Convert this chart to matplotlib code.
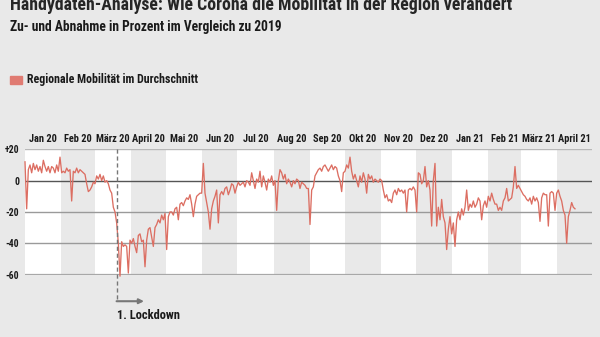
import numpy as np
import pandas as pd
import matplotlib
matplotlib.use('Agg')
from matplotlib import pyplot as plt
from matplotlib import font_manager

title = 'Handydaten-Analyse: Wie Corona die Mobilität in der Region verändert'
subtitle = 'Zu- und Abnahme in Prozent im Vergleich zu 2019'
series_name = 'Regionale Mobilität im Durchschnitt'

start_date = '2020-01-01'
sample_step_days = 10 / 7
lockdown_date = '2020-03-20'
lockdown_label = '1. Lockdown'

month_labels = ['Jan 20', 'Feb 20', 'März 20', 'April 20', 'Mai 20', 'Jun 20',
                'Jul 20', 'Aug 20', 'Sep 20', 'Okt 20', 'Nov 20', 'Dez 20',
                'Jan 21', 'Feb 21', 'März 21', 'April 21']

y_ticks = [20, 0, -20, -40, -60]
y_tick_labels = ['+20', '0', '-20', '-40', '-60']

# change vs 2019 in percent, one value every 10/7 days from 1 Jan 2020
mobility = [
    12, -18, 7, 10, 5, 11, 7, 10, 6, 9,
    5, 13, 9, 6, 9, 5, 9, 8, 5, 10,
    6, 15, 5, 6, 5, 8, 6, 7, -13, 6,
    5, 8, 5, 7, 6, 5, 4, -2, -7, -6,
    -4, -1, -2, 3, 1, 4, 0, 3, -1, 0,
    -2, -6, -8, -17, -20, -27, -40, -61, -39, -42,
    -41, -42, -59, -38, -40, -37, -42, -46, -35, -34,
    -39, -38, -55, -38, -31, -30, -36, -42, -30, -28,
    -25, -27, -22, -25, -21, -44, -23, -20, -20, -22,
    -18, -17, -25, -15, -14, -16, -13, -11, -12, -9,
    -15, -23, -15, -10, -9, -8, -8, 11, -8, -14,
    -20, -31, -18, -13, -10, -6, -27, -9, -7, -9,
    -5, -4, -9, -6, -2, -3, -8, -4, -1, -3,
    -2, -1, -4, 0, -1, -3, 5, 0, -5, 1,
    -1, 6, -4, 3, -1, -6, 1, -1, 3, -3,
    0, -19, 0, 7, 5, 1, 4, -2, 1, -1,
    -4, 0, -2, 1, 0, -5, -1, -2, -3, -5,
    -5, -28, -6, -4, 3, 5, 7, 8, 6, 9,
    10, 8, 6, 8, 10, 7, 9, 8, 3, 0,
    -7, 5, 6, 10, 8, 15, 6, 1, 4, 0,
    -4, 3, -1, 5, 1, -8, 4, 1, 3, -1,
    1, 0, -1, 1, 0, -6, -11, -9, -13, -12,
    -14, -8, -6, -9, -5, -7, -6, -8, -6, -20,
    -6, -5, -6, -4, -6, -20, 5, 4, -2, 0,
    9, -4, 0, -6, -29, 0, 11, -29, -17, -25,
    -12, -23, -27, -44, -31, -23, -34, -27, -42, -25,
    -20, -25, -18, -22, -17, -6, -19, -15, -17, -13,
    -17, -15, -11, -13, -25, -16, -13, -17, -10, -13,
    -8, -12, -15, -15, -19, -17, -19, -13, -11, -5,
    -13, -12, -11, -4, 9, -5, -3, -5, -7, -9,
    -10, -12, -13, -11, -15, -10, -13, -11, -14, -26,
    -11, -8, -9, -9, -29, -8, -7, -8, -19, -8,
    -6, -10, -13, -19, -22, -40, -23, -19, -14, -17, -18,
]

bg = '#e9e9e9'
line_color = '#dc6e62'
text_color = '#1a1a1a'

# pick a narrow face if one is around
names = set(f.name for f in font_manager.fontManager.ttflist)
narrow = [n for n in ['Roboto Condensed', 'Liberation Sans Narrow', 'DejaVu Sans Condensed']
          if n in names]
plt.rcParams['font.family'] = narrow + ['Liberation Sans', 'DejaVu Sans']
condensed = len(narrow) > 0
shrink = 1.0 if condensed else 0.86

start = pd.Timestamp(start_date)
days = np.arange(len(mobility)) * sample_step_days
month_starts = pd.date_range(start_date, periods=len(month_labels) + 1, freq='MS')
month_days = np.array((month_starts - start).days)
lockdown_day = (pd.Timestamp(lockdown_date) - start).days

fig = plt.figure(figsize=(6, 3.37), dpi=100, facecolor=bg)
ax = fig.add_axes([25 / 600, 62.4 / 337, 567 / 600, 125.3 / 337])
ax.set_facecolor('none')

# alternating month bands
for k in range(len(month_labels)):
    if k % 2 == 0:
        ax.axvspan(month_days[k], month_days[k + 1], color='white', lw=0, zorder=0)

grid_styles = {20: ('#b8b8b8', 1.0), 0: ('#555555', 1.0), -20: ('#9a9a9a', 1.0),
               -40: ('#9a9a9a', 1.0), -60: ('#a8a8a8', 1.6)}
for yv in y_ticks:
    c, w = grid_styles[yv]
    ax.axhline(yv, color=c, lw=w, zorder=1)

ax.plot(days, mobility, color=line_color, lw=0.95, zorder=3, clip_on=False)

ax.set_xlim(month_days[0], month_days[-1])
ax.set_ylim(-60, 20)
for s in ax.spines.values():
    s.set_visible(False)
ax.set_xticks([])
ax.set_yticks(y_ticks)
ax.set_yticklabels(y_tick_labels, fontsize=7 * shrink, fontweight='bold', color=text_color)
ax.tick_params(axis='y', length=0, pad=4)

# month labels centred on their band
for k, lab in enumerate(month_labels):
    mid = (month_days[k] + month_days[k + 1]) / 2
    ax.text(mid, 26.5, lab, ha='center', va='center', fontsize=7.5 * shrink,
            fontweight='bold', color=text_color, clip_on=False)

# lockdown marker
ax.plot([lockdown_day, lockdown_day], [20, -77], color='#777777', lw=1,
        ls=(0, (3, 2)), zorder=4, clip_on=False)
ax.annotate('', xy=(lockdown_day + 23, -77), xytext=(lockdown_day - 0.5, -77),
            arrowprops=dict(arrowstyle='-|>', color='#777777', lw=1.5,
                            mutation_scale=7, shrinkA=0, shrinkB=0),
            annotation_clip=False)
ax.text(lockdown_day, -86, lockdown_label, ha='left', va='center', fontsize=9 * shrink,
        fontweight='bold', color=text_color, clip_on=False)

fig.text(10 / 600, 1 - 10 / 337, title, ha='left', va='baseline',
         fontsize=12.8 if condensed else 10.8,
         fontweight='bold', color='#262626')
fig.text(10 / 600, 1 - 27.5 / 337, subtitle, ha='left', va='center', fontsize=9.75 * shrink,
         fontweight='bold', color=text_color)

fig.patches.append(plt.Rectangle((10 / 600, 1 - 84 / 337), 12 / 600, 8 / 337,
                                 transform=fig.transFigure, color='#e07b72'))
fig.text(27 / 600, 1 - 80 / 337, series_name, ha='left', va='center', fontsize=8.6 * shrink,
         fontweight='bold', color=text_color)

fig.savefig('out.png', dpi=100, facecolor=bg)
plt.close()
